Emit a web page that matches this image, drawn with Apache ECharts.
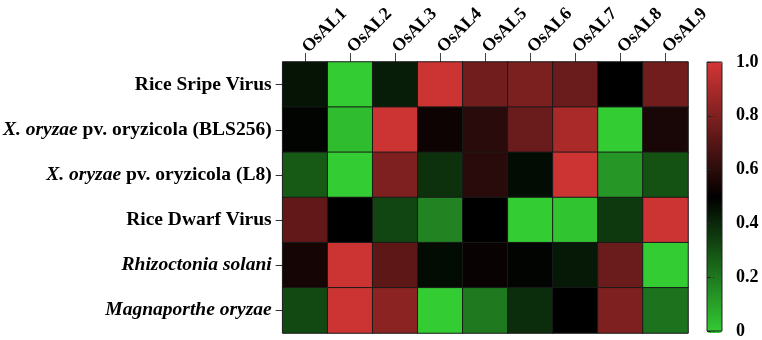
<!DOCTYPE html>
<html>
<head>
<meta charset="utf-8">
<script src="https://cdn.jsdelivr.net/npm/echarts@6/dist/echarts.min.js"></script>
<style>
  html, body { margin: 0; padding: 0; background: #fff; }
  #chart { width: 762px; height: 340px; }
</style>
</head>
<body>
<div id="chart"></div>
<script>
const genes = ['OsAL1', 'OsAL2', 'OsAL3', 'OsAL4', 'OsAL5', 'OsAL6', 'OsAL7', 'OsAL8', 'OsAL9'];

// pathogen labels, rich markup for the italic parts
const pathogens = [
  'Rice Sripe Virus',
  '{i|X. oryzae} pv. oryzicola (BLS256)',
  '{i|X. oryzae} pv. oryzicola (L8)',
  'Rice Dwarf Virus',
  '{i|Rhizoctonia solani}',
  '{i|Magnaporthe oryzae}',
];

// one row per pathogen, one value per gene (0 = green, 0.5 = black, 1 = red)
const riceStripe = [0.45, 0.0, 0.43, 0.98, 0.77, 0.79, 0.75, 0.5, 0.77];
const xooBLS256 = [0.49, 0.04, 0.98, 0.53, 0.6, 0.75, 0.9, 0.0, 0.56];
const xooL8 = [0.28, 0.0, 0.8, 0.38, 0.6, 0.47, 0.98, 0.13, 0.3];
const riceDwarf = [0.73, 0.5, 0.33, 0.18, 0.5, 0.0, 0.02, 0.36, 0.98];
const rhizoctonia = [0.55, 0.98, 0.72, 0.47, 0.52, 0.49, 0.44, 0.75, 0.0];
const magnaporthe = [0.32, 0.98, 0.83, 0.0, 0.2, 0.39, 0.5, 0.8, 0.22];

const rows = [riceStripe, xooBLS256, xooL8, riceDwarf, rhizoctonia, magnaporthe];
const cells = [];
rows.forEach((row, y) => row.forEach((v, x) => cells.push([x, y, v])));

const FONT = '"Liberation Serif", "Times New Roman", serif';

const chart = echarts.init(document.getElementById('chart'));
chart.setOption({
  animation: false,
  backgroundColor: '#fff',
  grid: [
    { left: 280, right: 74, top: 62, bottom: 7 },
    { left: 707, width: 15, top: 62, height: 271, show: true, z: 10,
      backgroundColor: 'transparent', borderColor: '#222', borderWidth: 1 },
  ],
  xAxis: [
    {
      type: 'category',
      gridIndex: 0,
      data: genes,
      position: 'top',
      axisLine: { show: false },
      axisTick: { show: true, alignWithLabel: true, length: 9, lineStyle: { color: '#444' } },
      axisLabel: {
        rotate: -45,
        margin: 12,
        fontFamily: FONT,
        fontWeight: 'bold',
        fontSize: 18,
        color: '#000',
      },
      splitLine: { show: false },
    },
    { type: 'value', gridIndex: 1, show: false },
  ],
  yAxis: [
    {
      type: 'category',
      gridIndex: 0,
      data: pathogens,
      inverse: true,
      axisLine: { show: false },
      axisTick: { show: true, alignWithLabel: true, length: 7, lineStyle: { color: '#333' } },
      axisLabel: {
        margin: 11,
        fontFamily: FONT,
        fontWeight: 'bold',
        fontSize: 19.5,
        color: '#000',
        rich: {
          i: { fontFamily: FONT, fontWeight: 'bold', fontStyle: 'italic', fontSize: 19.5, color: '#000' },
        },
      },
    },
    {
      type: 'value',
      gridIndex: 1,
      min: 0,
      max: 1,
      interval: 0.2,
      position: 'right',
      z: 10,
      axisLine: { show: false },
      axisTick: { show: false },
      splitLine: { show: false },
      axisLabel: {
        margin: 14,
        fontFamily: FONT,
        fontWeight: 'bold',
        fontSize: 18,
        color: '#000',
        formatter: (v) => (v === 0 ? '0' : v.toFixed(1)),
      },
    },
    {
      type: 'value',
      gridIndex: 1,
      min: 0,
      max: 1,
      interval: 0.2,
      position: 'left',
      z: 10,
      axisLine: { show: false },
      axisTick: { show: true, inside: true, length: 7, lineStyle: { color: '#222', type: 'dashed' } },
      axisLabel: { show: false },
      splitLine: { show: false },
    },
  ],
  visualMap: {
    type: 'continuous',
    min: 0,
    max: 1,
    seriesIndex: 0,
    calculable: false,
    left: 707,
    top: 62,
    padding: 0,
    itemWidth: 15,
    itemHeight: 271,
    text: null,
    inRange: { color: ['#33cc33', '#000000', '#d43535'] },
  },
  series: [
    {
      type: 'heatmap',
      xAxisIndex: 0,
      yAxisIndex: 0,
      data: cells,
      itemStyle: { borderColor: '#1a1a1a', borderWidth: 1 },
      emphasis: { disabled: true },
    },
  ],
});
</script>
</body>
</html>
